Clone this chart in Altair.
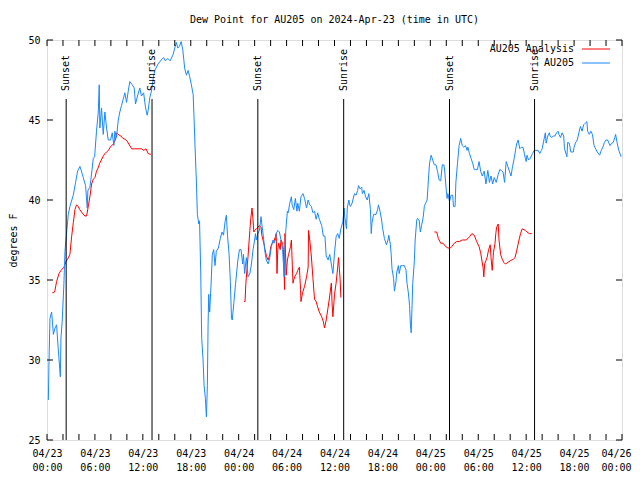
import altair as alt
import pandas as pd

# ---------------- data (hours after 2024-04-23 00:00 UTC) ----------------
obs_hours = [0.17, 0.25, 0.37, 0.58, 0.8, 1.0, 1.2, 1.4, 1.67, 1.75, 1.9, 2.12, 2.25, 2.46, 2.67, 2.87,
             3.29, 3.58, 3.83, 4.12, 4.25, 4.54, 4.83, 5.04, 5.12, 5.37, 5.5, 5.8, 5.96, 6.2, 6.42, 6.54,
             6.62, 6.83, 7.04, 7.25, 7.46, 7.67, 7.96, 8.17, 8.37, 8.5, 8.71, 8.92, 9.12, 9.33, 9.54, 9.75,
             9.96, 10.17, 10.37, 10.67, 10.92, 11.08, 11.33, 11.62, 11.83, 12.1, 12.33, 12.54, 12.67, 12.87,
             13.08, 13.3, 13.5, 13.9, 14.3, 14.6, 14.83, 15.12, 15.42, 15.8, 16.0, 16.2, 16.37, 16.58, 16.8,
             17.0, 17.25, 17.46, 17.67, 17.87, 18.08, 18.3, 18.4, 18.54, 18.7, 18.83, 19.0, 19.1, 19.25,
             19.37, 19.54, 19.67, 19.83, 19.96, 20.08, 20.17, 20.25, 20.37, 20.54, 20.7, 20.87, 21.04, 21.2,
             21.46, 21.7, 21.92, 22.1, 22.3, 22.46, 22.6, 22.8, 22.96, 23.1, 23.2, 23.4, 23.6, 23.9, 24.1,
             24.3, 24.5, 24.6, 24.75, 24.96, 25.17, 25.4, 25.6, 25.8, 26.0, 26.1, 26.2, 26.4, 26.6, 26.8,
             26.9, 27.1, 27.25, 27.46, 27.7, 27.9, 28.1, 28.3, 28.4, 28.6, 28.7, 28.9, 29.1, 29.3, 29.5,
             29.7, 29.8, 29.9, 30.1, 30.2, 30.4, 30.6, 30.7, 30.9, 31.1, 31.3, 31.4, 31.6, 31.8, 32.05,
             32.25, 32.5, 32.7, 32.9, 33.1, 33.3, 33.5, 33.7, 33.9, 34.1, 34.4, 34.6, 34.8, 34.96, 35.2,
             35.4, 35.6, 35.8, 36.0, 36.2, 36.4, 36.6, 36.8, 37.05, 37.2, 37.3, 37.5, 37.6, 37.8, 37.9,
             38.0, 38.2, 38.5, 38.7, 38.9, 39.0, 39.2, 39.4, 39.5, 39.7, 39.9, 40.1, 40.3, 40.5, 40.6,
             40.7, 40.9, 41.2, 41.4, 41.5, 41.7, 41.9, 42.0, 42.25, 42.5, 42.7, 42.8, 43.0, 43.1, 43.2,
             43.4, 43.5, 43.7, 43.8, 44.0, 44.1, 44.3, 44.5, 44.75, 44.96, 45.08, 45.25, 45.4, 45.5, 45.6,
             45.7, 45.8, 46.0, 46.1, 46.3, 46.4, 46.6, 46.75, 46.9, 47.1, 47.25, 47.4, 47.6, 47.7, 47.8,
             47.9, 48.1, 48.3, 48.5, 48.7, 48.9, 49.1, 49.3, 49.5, 49.7, 49.8, 50.0, 50.1, 50.2, 50.4,
             50.6, 50.8, 50.9, 51.1, 51.2, 51.4, 51.6, 51.8, 52.0, 52.2, 52.4, 52.6, 52.7, 52.9, 53.1,
             53.3, 53.5, 53.7, 53.9, 54.1, 54.3, 54.5, 54.75, 54.96, 55.2, 55.4, 55.6, 55.8, 56.0, 56.25,
             56.5, 56.7, 56.9, 57.1, 57.3, 57.5, 57.7, 57.9, 58.1, 58.3, 58.5, 58.8, 59.0, 59.2, 59.4,
             59.6, 59.9, 60.0, 60.1, 60.3, 60.5, 60.8, 61.0, 61.2, 61.5, 61.7, 61.9, 62.0, 62.4, 62.5,
             62.7, 62.9, 63.0, 63.2, 63.4, 63.6, 63.8, 64.0, 64.1, 64.3, 64.5, 64.7, 64.8, 65.1, 65.2,
             65.4, 65.6, 65.9, 66.0, 66.2, 66.4, 66.6, 66.8, 67.0, 67.2, 67.4, 67.6, 67.7, 67.9, 68.1,
             68.3, 68.5, 68.7, 68.9, 69.2, 69.4, 69.6, 69.8, 70.0, 70.2, 70.5, 70.7, 70.9, 71.1, 71.2,
             71.4, 71.6, 71.9]
obs_dewpt = [27.5, 29.9, 32.6, 33.0, 31.6, 32.0, 32.2, 30.75, 28.95, 31.4, 32.4, 34.8, 36.8, 38.0, 39.1, 39.6,
             40.3, 41.1, 41.8, 42.1, 41.9, 41.4, 40.9, 39.5, 40.6, 40.8, 41.3, 42.6, 42.7, 44.3, 45.5, 47.2,
             44.5, 45.75, 44.1, 45.5, 44.5, 43.75, 43.75, 44.2, 43.4, 44.3, 43.9, 45.0, 45.5, 45.9, 46.3, 46.7,
             46.1, 46.8, 47.4, 47.2, 47.0, 46.0, 46.5, 47.0, 46.5, 46.7, 45.8, 45.3, 45.6, 46.4,
             46.8, 47.6, 48.1, 48.5, 48.75, 48.9, 48.7, 48.85, 48.7, 49.1, 49.5, 49.85, 49.5, 49.6, 49.9,
             49.4, 48.2, 47.8, 48.1, 47.7, 47.2, 46.6, 45.3, 43.3, 41.25, 39.1, 38.5, 38.7, 35.5,
             31.35, 30.0, 28.4, 27.6, 26.45, 28.4, 32.2, 34.1, 33.0, 34.7, 36.6, 36.9, 35.9, 36.8,
             37.0, 37.6, 38.0, 37.8, 38.65, 39.05, 37.8, 36.6, 34.9, 32.6, 32.5, 33.6, 34.7, 36.25, 36.9,
             36.9, 36.0, 36.6, 35.4, 36.4, 35.2, 35.4, 36.0, 36.9, 37.5, 37.9, 37.5, 37.9, 38.1, 38.96,
             38.5, 37.7, 36.9, 36.25, 36.0, 36.4, 37.1, 37.5, 37.3, 37.5, 37.9, 38.1, 38.0, 37.5, 36.9,
             35.2, 36.9, 38.1, 39.3, 39.2, 39.8, 40.2, 39.7, 39.4, 40.1, 39.3, 39.8, 39.3, 40.2, 40.4,
             40.1, 39.5, 40.0, 39.7, 39.6, 39.2, 39.3, 38.8, 39.2, 38.8, 38.4, 37.75, 37.75, 36.5, 36.25,
             36.6, 36.0, 35.4, 36.7, 37.7, 37.9, 37.6, 38.2, 38.65, 39.5, 38.9, 38.2, 39.5, 40.0, 39.7,
             39.6, 39.8, 40.4, 40.3, 40.6, 40.9, 40.7, 40.8, 40.4, 40.6, 40.2, 40.0, 40.4, 39.4, 37.9,
             38.6, 39.1, 39.1, 39.4, 39.7, 39.3, 38.75, 38.3, 37.6, 37.2, 37.5, 37.8, 37.2, 36.6, 35.7,
             35.1, 34.3, 34.9, 35.5, 35.9, 35.4, 35.9, 35.9, 35.9, 35.6, 34.8, 34.2, 33.4, 32.25, 31.7,
             33.2, 34.8, 36.2, 37.5, 38.75, 38.85, 38.75, 38.0, 38.4, 38.9, 39.6, 39.8, 40.0, 40.8, 41.6,
             42.3, 42.8, 42.5, 42.2, 42.2, 41.8, 41.25, 41.2, 42.2, 42.2, 41.8, 40.6, 40.1, 40.4, 39.9,
             40.3, 40.3, 39.6, 39.6, 41.1, 42.3, 43.4, 43.85, 43.4, 43.3, 43.4, 43.1, 43.3, 42.9, 42.6,
             42.3, 41.9, 41.9, 41.9, 42.4, 41.8, 41.5, 41.8, 41.0, 41.85, 41.1, 41.5, 41.0, 41.4, 41.1,
             41.6, 41.9, 41.85, 41.75, 41.1, 42.4, 42.1, 41.8, 41.5, 42.1, 42.6, 43.5, 43.75, 43.2, 43.3,
             43.3, 42.6, 42.4, 42.8, 42.5, 42.6, 42.9, 43.1, 43.1, 43.1, 42.9, 43.1, 43.2, 44.2, 43.55,
             44.0, 44.2, 44.0, 43.9, 44.0, 44.0, 44.2, 44.3, 44.1, 43.9, 44.2, 44.0, 43.2, 42.7, 43.6,
             43.55, 43.0, 43.0, 43.3, 43.6, 43.75, 44.2, 44.6, 44.3, 44.7, 44.8, 44.9, 44.3, 44.1, 44.3,
             44.1, 43.4, 43.2, 43.0, 42.8, 43.1, 43.3, 43.6, 43.75, 43.75, 43.4, 43.55, 43.6, 43.9, 44.1,
             43.55, 43.1, 42.7]

# Analysis series: three separate runs
ana1_hours = [0.67, 0.96, 1.2, 1.5, 1.75, 2.12, 2.33, 2.58, 2.87, 3.08, 3.3, 3.5, 3.7, 3.9, 4.1, 4.4,
              4.75, 4.96, 5.2, 5.4, 5.58, 5.8, 6.0, 6.2, 6.4, 6.6, 6.8, 7.0, 7.25, 7.45, 7.7, 7.9, 8.1,
              8.3, 8.6, 8.7, 8.9, 9.25, 9.5, 9.75, 10.0, 10.25, 10.6, 11.0, 11.4, 11.83, 12.1, 12.4,
              12.67, 13.0]
ana1_dewpt = [34.2, 34.25, 34.9, 35.4, 35.6, 35.8, 36.1, 36.3, 36.6, 37.7, 38.6, 39.4, 39.7, 39.6, 39.4, 39.2,
              39.0, 39.0, 39.7, 40.3, 41.0, 41.3, 41.4, 41.8, 42.0, 42.3, 42.5, 42.7, 42.9, 43.0, 43.1, 43.3, 43.4,
              43.5, 43.8, 44.2, 44.1, 44.0, 43.85, 43.8, 43.7, 43.5, 43.2, 43.2, 43.2, 43.2, 43.1, 43.2,
              42.9, 42.85]
ana2_hours = [24.67, 24.8, 24.9, 25.17, 25.4, 25.5, 25.67, 25.8, 25.9, 26.0, 26.25, 26.4, 26.6, 26.8, 26.9,
              27.2, 27.3, 27.5, 27.7, 27.9, 28.0, 28.2, 28.4, 28.6, 28.7, 28.8, 28.9, 29.0, 29.2, 29.3, 29.5,
              29.6, 29.75, 29.8, 29.95, 30.1, 30.25, 30.5, 30.6, 30.8, 31.0, 31.25, 31.4, 31.6, 31.75, 31.8,
              32.0, 32.25, 32.5, 32.7, 32.75, 32.9, 33.1, 33.3, 33.5, 33.7, 33.9, 34.1, 34.4, 34.6, 34.75,
              34.96, 35.2, 35.4, 35.6, 35.7, 35.8, 36.0, 36.2, 36.4, 36.5, 36.7, 36.8]
ana2_dewpt = [33.65, 33.65, 34.8, 36.45, 38.1, 38.75, 39.5, 38.75, 38.0, 38.1, 38.2, 38.3, 38.4, 38.3, 37.8,
              37.2, 36.9, 36.45, 36.25, 36.6, 37.05, 37.3, 37.4, 37.7, 37.9, 35.4, 36.9, 37.3, 36.9, 37.5, 37.3,
              36.9, 34.4, 37.9, 35.3, 36.25, 36.6, 37.1, 37.5, 34.8, 35.2, 35.4, 35.6, 35.8, 34.4, 33.65,
              34.2, 34.6, 35.2, 35.8, 38.1, 37.5, 36.5, 35.1, 33.8, 33.65, 33.3, 33.0, 32.7, 32.4, 32.0,
              32.5, 33.3, 34.0, 34.8, 33.5, 32.7, 34.1, 34.8, 35.8, 36.4, 35.1, 33.9]
ana3_hours = [48.5, 48.8, 49.0, 49.3, 49.6, 49.9, 50.2, 50.5, 50.7, 51.0, 51.3, 51.6, 52.0, 52.5, 52.9,
              53.2, 53.5, 53.8, 54.1, 54.3, 54.6, 54.7, 54.8, 54.96, 55.1, 55.3, 55.5, 55.6, 55.75, 55.9,
              56.1, 56.2, 56.3, 56.5, 56.6, 56.8, 57.0, 57.2, 57.4, 57.7, 58.0, 58.4, 58.6, 58.8, 59.1,
              59.3, 59.5, 59.9, 60.1, 60.4, 60.7]
ana3_dewpt = [38.0, 38.0, 37.6, 37.3, 37.3, 37.1, 37.0, 37.0, 37.1, 37.3, 37.4, 37.4, 37.5, 37.5, 37.7,
              37.9, 37.8, 37.4, 37.1, 36.7, 35.8, 35.2, 36.0, 36.2, 36.4, 36.9, 37.2, 36.4, 35.6, 36.7,
              37.3, 37.9, 38.3, 38.5, 37.5, 36.6, 36.3, 36.1, 36.0, 36.1, 36.2, 36.3, 36.4, 36.8, 37.5,
              37.9, 38.2, 38.1, 38.0, 37.9, 37.9]

sun_hours = [2.4, 13.15, 26.4, 37.15, 50.4, 61.05]
sun_labels = ["Sunset", "Sunrise", "Sunset", "Sunrise", "Sunset", "Sunrise"]

x_label_hours = [0, 6, 12, 18, 24, 30, 36, 42, 48, 54, 60, 66, 72]
x_tick_hours = list(range(0, 73, 2))
y_tick_values = [25, 30, 35, 40, 45, 50]

RED = "#ff0000"
BLUE = "#1a88ff"
FONT = "DejaVu Sans Mono"
W, H = 575, 400
X0, X1, Y0, Y1 = 0, 72, 25, 50
TICK_PX = 6
tick_dy = TICK_PX * (Y1 - Y0) / H      # tick length in y data units
tick_dx = TICK_PX * (X1 - X0) / W      # tick length in x data units

# ---------------- frames ----------------
obs = pd.DataFrame({"h": obs_hours, "v": obs_dewpt})
ana = pd.concat([
    pd.DataFrame({"h": ana1_hours, "v": ana1_dewpt, "seg": 1}),
    pd.DataFrame({"h": ana2_hours, "v": ana2_dewpt, "seg": 2}),
    pd.DataFrame({"h": ana3_hours, "v": ana3_dewpt, "seg": 3}),
])
sun = pd.DataFrame({"h": sun_hours, "label": sun_labels})
xt = pd.DataFrame({"h": x_tick_hours})
yt = pd.DataFrame({"v": y_tick_values})

xscale = alt.Scale(domain=[X0, X1], nice=False, zero=False)
yscale = alt.Scale(domain=[Y0, Y1], nice=False, zero=False)

label_expr = ("['04/' + (23 + floor(datum.value / 24)), "
              "((datum.value % 24) < 10 ? '0' : '') + (datum.value % 24) + ':00']")

xaxis = alt.Axis(values=x_label_hours, labelExpr=label_expr, title=None, grid=False,
                 ticks=False, domain=False, labelPadding=8, labelFont=FONT, labelFontSize=10,
                 labelColor="black", labelLineHeight=14, labelFlush=False,
                 labelOffset={"condition": {"test": "datum.value == 72", "value": -6}, "value": 0})
yaxis = alt.Axis(values=y_tick_values, title="degrees F", grid=False, ticks=False, domain=False,
                 labelPadding=7, labelFont=FONT, labelFontSize=10, labelColor="black",
                 titleFont=FONT, titleFontSize=10, titleFontWeight="normal", titleColor="black",
                 titleX=-34, titleY=200, titleAlign="center", titleBaseline="middle", titleAngle=270)

X = alt.X("h:Q", scale=xscale, axis=xaxis)
Y = alt.Y("v:Q", scale=yscale, axis=yaxis)

ana_line = alt.Chart(ana).mark_line(color=RED, strokeWidth=1).encode(
    x=X, y=Y, detail="seg:N")
obs_line = alt.Chart(obs).mark_line(color=BLUE, strokeWidth=1).encode(x=X, y=Y)

sun_rules = alt.Chart(sun).mark_rule(color="black", strokeWidth=1).encode(
    x=X, y=alt.value(59), y2=alt.value(H))
sun_text = alt.Chart(sun).mark_text(angle=270, align="left", baseline="middle", font=FONT,
                                    fontSize=10, color="black", dx=1).encode(
    x=X, y=alt.value(52), text="label:N")

# tick marks pointing inward on all four sides (gnuplot style)
tick_b = alt.Chart(xt).mark_rule(color="black", strokeWidth=1).encode(
    x=X, y=alt.YDatum(Y0), y2=alt.Y2Datum(Y0 + tick_dy))
tick_t = alt.Chart(xt).mark_rule(color="black", strokeWidth=1).encode(
    x=X, y=alt.YDatum(Y1), y2=alt.Y2Datum(Y1 - tick_dy))
tick_l = alt.Chart(yt).mark_rule(color="black", strokeWidth=1).encode(
    y=Y, x=alt.XDatum(X0), x2=alt.X2Datum(X0 + tick_dx))
tick_r = alt.Chart(yt).mark_rule(color="black", strokeWidth=1).encode(
    y=Y, x=alt.XDatum(X1), x2=alt.X2Datum(X1 - tick_dx))

legend_text = (
    alt.Chart(pd.DataFrame({"t": ["AU205 Analysis"]})).mark_text(
        align="right", baseline="middle", font=FONT, fontSize=10, color="black").encode(
        x=alt.value(527), y=alt.value(9), text="t:N")
    + alt.Chart(pd.DataFrame({"t": ["AU205"]})).mark_text(
        align="right", baseline="middle", font=FONT, fontSize=10, color="black").encode(
        x=alt.value(527), y=alt.value(23), text="t:N")
)
legend_lines = (
    alt.Chart(pd.DataFrame({"k": [1]})).mark_rule(color=RED, strokeWidth=1).encode(
        x=alt.value(535), x2=alt.value(563), y=alt.value(9))
    + alt.Chart(pd.DataFrame({"k": [1]})).mark_rule(color=BLUE, strokeWidth=1).encode(
        x=alt.value(535), x2=alt.value(563), y=alt.value(23))
)

chart = alt.layer(
    ana_line, obs_line, sun_rules, sun_text,
    tick_b, tick_t, tick_l, tick_r,
    legend_text, legend_lines,
).properties(
    width=W, height=H,
    title=alt.Title("Dew Point for AU205 on 2024-Apr-23 (time in UTC)", font=FONT, fontSize=10,
                    fontWeight="normal", color="black", anchor="middle", offset=10),
    autosize=alt.AutoSizeParams(type="none"),
    padding={"left": 39, "top": 32, "right": 10, "bottom": 32},
).configure_view(stroke="black", strokeWidth=1).configure(background="white")

chart.save("out.html", embed_options={"renderer": "svg", "actions": False})
